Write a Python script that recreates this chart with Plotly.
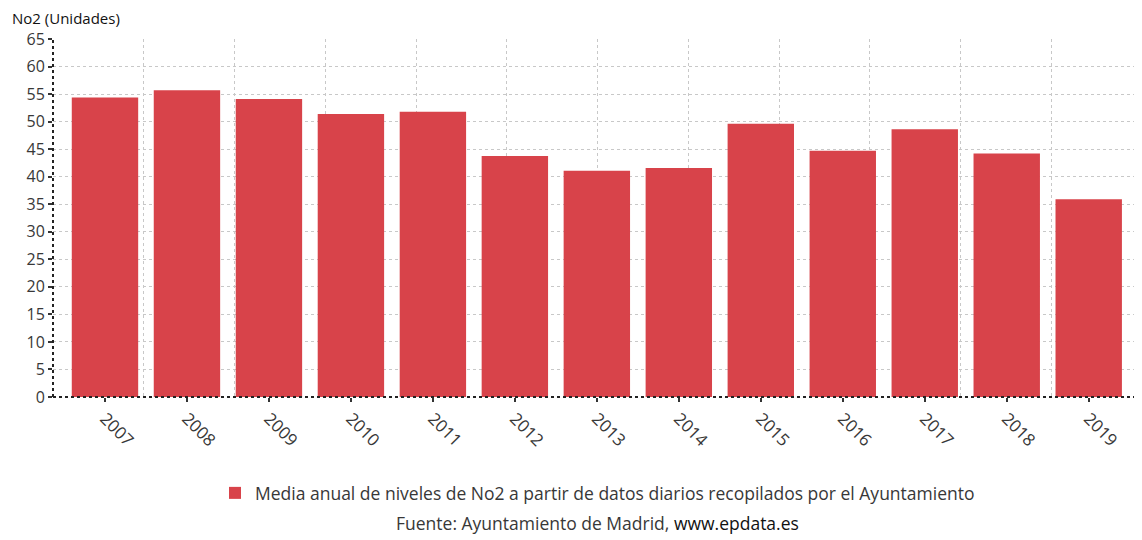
import plotly.graph_objects as go

years = ["2007", "2008", "2009", "2010", "2011", "2012", "2013",
         "2014", "2015", "2016", "2017", "2018", "2019"]
no2 = [54.4, 55.7, 54.1, 51.4, 51.8, 43.75, 41.1, 41.6, 49.6, 44.7, 48.6, 44.2, 35.9]
y_ticks = list(range(0, 70, 5))
series_name = "Media anual de niveles de No2 a partir de datos diarios recopilados por el Ayuntamiento"

BAR = "#d8434a"
TXT = "#383838"
FONT = "Open Sans"

# page body has an 8px margin; plot area targeted at x 53..1142, y 39..397 in the window
PW = 1142 - 53
PH = 397 - 39

fig = go.Figure()
fig.add_trace(go.Bar(x=years, y=no2, name=series_name, marker=dict(color=BAR, line=dict(width=0)),
                     showlegend=True))
# invisible trace on overlay axis to show vertical grid divisions
fig.add_trace(go.Scatter(x=[0, 12], y=[0, 0], xaxis="x2", mode="markers",
                         marker=dict(opacity=0), showlegend=False, hoverinfo="skip"))

fig.update_layout(
    width=1134, height=532,
    margin=dict(l=45, r=0, t=31, b=143, pad=0),
    paper_bgcolor="white", plot_bgcolor="white",
    font=dict(family=FONT, color=TXT, size=15),
    bargap=0.19,
    xaxis=dict(
        type="category", range=[-0.634, 12.65],
        tickangle=45, tickfont=dict(size=17, color=TXT),
        ticks="outside", ticklen=4, tickcolor="#333", tickwidth=2,
        showgrid=False, showline=False, zeroline=False,
    ),
    xaxis2=dict(
        overlaying="x", range=[0, 12], dtick=1, showticklabels=False,
        showgrid=True, gridcolor="#c8c8c8", griddash="dot", gridwidth=1,
        zeroline=False, showline=False, ticks="",
    ),
    yaxis=dict(
        range=[0, 65], tickvals=y_ticks, tickfont=dict(size=16, color=TXT),
        ticks="outside", ticklen=4, tickcolor="#333", tickwidth=2,
        showgrid=True, gridcolor="#c8c8c8", griddash="dot", gridwidth=1,
        zeroline=False, showline=False,
    ),
    legend=dict(orientation="h", x=0.5, xanchor="center", y=(397 - 493) / PH, yanchor="middle",
                font=dict(size=17.5, color=TXT), itemwidth=30, traceorder="normal"),
    annotations=[
        dict(text="No2 (Unidades)", xref="paper", yref="paper", x=(10 - 53) / PW, y=(397 - 18.5) / PH,
             xanchor="left", yanchor="middle", showarrow=False,
             font=dict(size=15, color="#111")),
        dict(text="Fuente: Ayuntamiento de Madrid, <span style='color:#111'>www.epdata.es</span>",
             xref="paper", yref="paper", x=0.5, y=(397 - 523) / PH,
             xanchor="center", yanchor="middle", showarrow=False,
             font=dict(size=17.5, color=TXT)),
    ],
    shapes=[
        dict(type="line", xref="paper", yref="paper", x0=0, x1=1, y0=0, y1=0,
             line=dict(color="#222", width=2, dash="dot"), layer="above"),
        dict(type="line", xref="paper", yref="paper", x0=0, x1=0, y0=0, y1=1,
             line=dict(color="#222", width=2, dash="dot"), layer="above"),
    ],
)

fig.write_html("out.html")
